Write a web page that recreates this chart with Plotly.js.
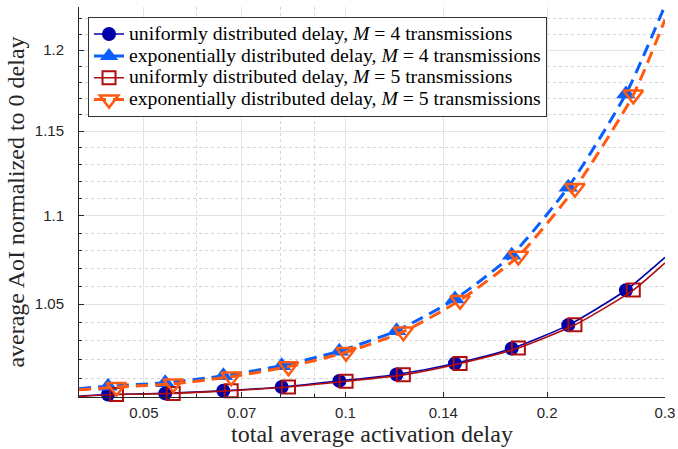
<!DOCTYPE html>
<html><head><meta charset="utf-8">
<script src="https://cdn.plot.ly/plotly-3.0.1.min.js"></script>
<style>html,body{margin:0;padding:0;background:#fff}</style>
</head><body><div id="chart" style="width:678px;height:449px"></div>
<script>
// x positions of the markers (total average activation delay)
const xM4 = [0.0442,0.0538,0.0657,0.0803,0.0979,0.1192,0.1457,0.1771,0.2151,0.2623];
const xM5 = [0.0455,0.0553,0.0675,0.0822,0.1002,0.1220,0.1483,0.1812,0.2201,0.2690];
// curve end points at the axis limits
const xStart = 0.04, xEnd = 0.3;
// normalized average AoI
const yUniM4 = [1.0013,1.0019,1.0033,1.0053,1.0085,1.0119,1.0178,1.0258,1.0385,1.0577];
const yExpM4 = [1.0057,1.0075,1.0112,1.0166,1.0244,1.0355,1.0528,1.0774,1.1166,1.1727];
const yUniM5 = [1.0013,1.0019,1.0033,1.0053,1.0083,1.0117,1.0178,1.0261,1.0387,1.0578];
const yExpM5 = [1.0052,1.0070,1.0107,1.0161,1.0238,1.0349,1.0522,1.0769,1.1160,1.1721];
const yUniM4Ends = [1.0004, 1.0761];
const yExpM4Ends = [1.0044, 1.2285];
const yUniM5Ends = [1.0003, 1.0730];
const yExpM5Ends = [1.0038, 1.2195];
const names = [
  'uniformly distributed delay, <i>M</i> = 4 transmissions',
  'exponentially distributed delay, <i>M</i> = 4 transmissions',
  'uniformly distributed delay, <i>M</i> = 5 transmissions',
  'exponentially distributed delay, <i>M</i> = 5 transmissions'
];
// ticks
const xTickVals = [0.05,0.07,0.1,0.14,0.2,0.3];
const xTickText = ['0.05','0.07','0.1','0.14','0.2','0.3'];
const xMinorVals = [0.06,0.08,0.09];
const yTickVals = [1.05,1.1,1.15,1.2];
const yTickText = ['1.05','1.1','1.15','1.2'];
const yMinorVals = [1.01,1.02,1.03,1.04,1.06,1.07,1.08,1.09,1.11,1.12,1.13,1.14,1.16,1.17,1.18,1.19,1.21,1.22];

const SERIF = '"Liberation Serif", "Times New Roman", Times, "DejaVu Serif", serif';
const SANS = '"Liberation Sans", Arial, Helvetica, sans-serif';

function series(xs, ys, ends, name, color, dash, width, symbol, msize, mline, mfill) {
  const x = [xStart].concat(xs, [xEnd]);
  const y = [ends[0]].concat(ys, [ends[1]]);
  const sel = xs.map((_, i) => i + 1);
  return {
    type: 'scatter', mode: 'lines+markers',
    name: '<span style="font-size:19.7px">' + name + '</span>', x: x, y: y,
    line: {color: color, width: width, dash: dash, shape: 'spline', smoothing: 0.6},
    marker: {symbol: symbol, size: msize, color: mfill, line: {color: color, width: mline}},
    selectedpoints: sel,
    selected: {marker: {opacity: 1}},
    unselected: {marker: {opacity: 0}},
    cliponaxis: false
  };
}

const data = [
  series(xM4, yUniM4, yUniM4Ends, names[0], '#0000aa', 'solid', 1.6, 'circle', 14, 0, '#0000aa'),
  series(xM4, yExpM4, yExpM4Ends, names[1], '#0a5ffa', '12px,7px', 3, 'triangle-up', 17, 0, '#0a5ffa'),
  series(xM5, yUniM5, yUniM5Ends, names[2], '#b00e0e', 'solid', 1.6, 'square-open', 13, 2, '#b00e0e'),
  series(xM5, yExpM5, yExpM5Ends, names[3], '#ff5a10', '12px,7px', 3, 'triangle-down-open', 17, 2.5, '#ff5a10')
];

const gridMajor = '#e3e3e3', gridMinor = '#d4d4d4';
const layout = {
  width: 678, height: 449,
  margin: {l: 79, r: 13, t: 7, b: 52},
  paper_bgcolor: '#fff', plot_bgcolor: '#fff',
  showlegend: true,
  legend: {
    x: 0.0154, y: 0.974, xanchor: 'left', yanchor: 'top',
    bgcolor: '#fff', bordercolor: '#333', borderwidth: 1,
    font: {family: SERIF, size: 14.5, color: '#000'},
    tracegroupgap: 0
  },
  xaxis: {
    type: 'log', range: [Math.log10(0.04), Math.log10(0.3)],
    tickmode: 'array', tickvals: xTickVals, ticktext: xTickText,
    ticks: 'inside', ticklen: 5, tickcolor: '#262626',
    showline: true, linecolor: '#262626', linewidth: 1, mirror: false,
    showgrid: true, gridcolor: gridMajor, gridwidth: 1,
    tickfont: {family: SANS, size: 15, color: '#262626'},
    ticklabelstandoff: 2,
    minor: {tickmode: 'array', tickvals: xMinorVals, ticks: 'inside', ticklen: 3, tickcolor: '#262626',
            showgrid: true, gridcolor: gridMinor, griddash: 'dot', gridwidth: 1},
    title: {text: 'total average activation delay', font: {family: SERIF, size: 24, color: '#262626'}, standoff: 5},
    zeroline: false, automargin: false
  },
  yaxis: {
    type: 'log', range: [0, Math.log10(1.2275)],
    tickmode: 'array', tickvals: yTickVals, ticktext: yTickText,
    ticks: 'inside', ticklen: 5, tickcolor: '#262626',
    showline: true, linecolor: '#262626', linewidth: 1, mirror: false,
    showgrid: true, gridcolor: gridMajor, gridwidth: 1,
    tickfont: {family: SANS, size: 15, color: '#262626'},
    ticklabelstandoff: 11,
    minor: {tickmode: 'array', tickvals: yMinorVals, ticks: 'inside', ticklen: 3, tickcolor: '#262626',
            showgrid: true, gridcolor: gridMinor, griddash: 'dot', gridwidth: 1},
    title: {text: 'average AoI normalized to 0 delay', font: {family: SERIF, size: 24, color: '#262626'}, standoff: 3},
    zeroline: false, automargin: false
  }
};
Plotly.newPlot('chart', data, layout, {staticPlot: true, displayModeBar: false});
</script></body></html>
